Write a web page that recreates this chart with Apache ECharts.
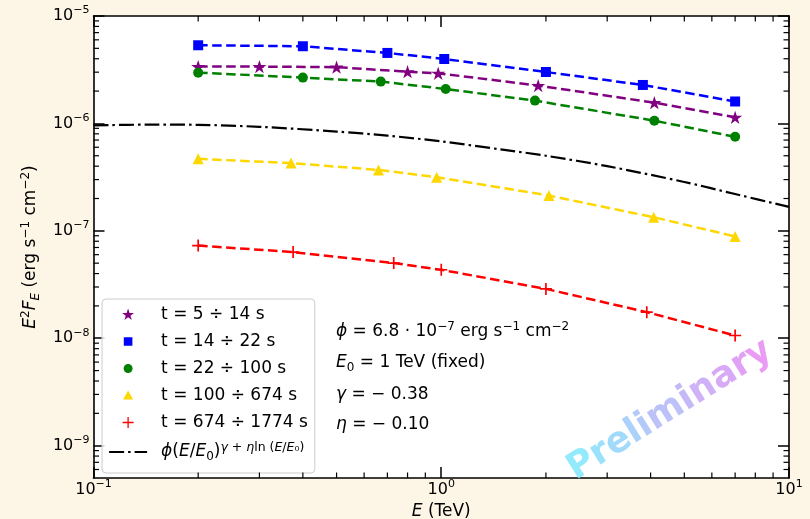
<!DOCTYPE html>
<html>
<head>
<meta charset="utf-8">
<script src="https://cdn.jsdelivr.net/npm/echarts@6.0.0/dist/echarts.min.js"></script>
<style>
html,body{margin:0;padding:0;background:#fdf5e6;}
#chart{width:810px;height:519px;}
</style>
</head>
<body>
<div id="chart"></div>
<script>
// ---------------- data ----------------
const seriesNames = ['t = 5 ÷ 14 s', 't = 14 ÷ 22 s', 't = 22 ÷ 100 s', 't = 100 ÷ 674 s', 't = 674 ÷ 1774 s'];
const fitName = 'fit';

const energy_5_14 = [0.2, 0.3, 0.5, 0.8, 0.98, 1.9, 4.1, 7.0];
const flux_5_14 = [3.38e-6, 3.38e-6, 3.34e-6, 3.03e-6, 2.93e-6, 2.25e-6, 1.56e-6, 1.14e-6];

const energy_14_22 = [0.2, 0.4, 0.7, 1.02, 2.0, 3.8, 7.0];
const flux_14_22 = [5.34e-6, 5.23e-6, 4.53e-6, 3.98e-6, 3.01e-6, 2.28e-6, 1.60e-6];

const energy_22_100 = [0.2, 0.4, 0.67, 1.03, 1.86, 4.1, 7.0];
const flux_22_100 = [2.97e-6, 2.67e-6, 2.45e-6, 2.09e-6, 1.63e-6, 1.06e-6, 7.5e-7];

const energy_100_674 = [0.2, 0.37, 0.66, 0.97, 2.04, 4.08, 7.0];
const flux_100_674 = [4.68e-7, 4.27e-7, 3.69e-7, 3.16e-7, 2.13e-7, 1.34e-7, 8.85e-8];

const energy_674_1774 = [0.2, 0.375, 0.73, 1.0, 2.0, 3.9, 7.0];
const flux_674_1774 = [7.29e-8, 6.34e-8, 5.01e-8, 4.34e-8, 2.88e-8, 1.75e-8, 1.06e-8];

const energy_fit = [0.1, 0.15, 0.2, 0.3, 0.5, 0.7, 1.0, 1.5, 2.0, 3.0, 5.0, 7.0, 10.0];
const flux_fit = [9.6e-7, 9.75e-7, 9.7e-7, 9.3e-7, 8.4e-7, 7.7e-7, 6.8e-7, 5.7e-7, 5.0e-7, 4.0e-7, 2.85e-7, 2.2e-7, 1.67e-7];

const xRange = [0.1, 10];
const yRange = [5e-10, 1e-5];
const xTickValues = [0.1, 1, 10];
const xTickExponents = ['−1', '0', '1'];
const yTickValues = [1e-9, 1e-8, 1e-7, 1e-6, 1e-5];
const yTickExponents = ['−9', '−8', '−7', '−6', '−5'];
const xMinorTicks = [0.2, 0.3, 0.4, 0.5, 0.6, 0.7, 0.8, 0.9, 2, 3, 4, 5, 6, 7, 8, 9];
const yMinorTicks = [6e-10, 7e-10, 8e-10, 9e-10,
  2e-9, 3e-9, 4e-9, 5e-9, 6e-9, 7e-9, 8e-9, 9e-9,
  2e-8, 3e-8, 4e-8, 5e-8, 6e-8, 7e-8, 8e-8, 9e-8,
  2e-7, 3e-7, 4e-7, 5e-7, 6e-7, 7e-7, 8e-7, 9e-7,
  2e-6, 3e-6, 4e-6, 5e-6, 6e-6, 7e-6, 8e-6, 9e-6];

// ---------------- styling helpers ----------------
const F = 'DejaVu Sans';
const colors = ['#800080', '#0000ff', '#008000', '#ffd700', '#ff0000'];

function starPts(cx, cy, R, r) {
  let s = '';
  for (let k = 0; k < 10; k++) {
    const a = (-90 + 36 * k) * Math.PI / 180;
    const rr = k % 2 ? r : R;
    s += (k ? 'L' : 'M') + (cx + rr * Math.cos(a)).toFixed(2) + ',' + (cy + rr * Math.sin(a)).toFixed(2);
  }
  return s + 'Z';
}
const PAD = 'M0,0h0.01v0.01h-0.01z M13.99,13.99h0.01v0.01h-0.01z ';
const plotSymbols = [
  'path://' + starPts(50, 50, 50, 19.1),
  'rect',
  'circle',
  'triangle',
  'path://M4.3,0H5.7V4.3H10V5.7H5.7V10H4.3V5.7H0V4.3H4.3Z'
];
const plotSizes = [14, 10, 10, 11, 12];
const legendIcons = [
  'path://' + PAD + starPts(7, 7.4, 6.3, 2.45),
  'path://' + PAD + 'M2.7,2.7h8.6v8.6h-8.6z',
  'path://' + PAD + 'M2.5,7a4.5,4.5 0 1,0 9,0a4.5,4.5 0 1,0 -9,0z',
  'path://' + PAD + 'M7,2L12,11H2z',
  'path://' + PAD + 'M6.35,1.5H7.65V6.35H12.5V7.65H7.65V12.5H6.35V7.65H1.5V6.35H6.35Z'
];

const tickRich = {
  n: {fontFamily: F, fontSize: 16, lineHeight: 22, color: '#000'},
  sup: {fontFamily: F, fontSize: 11, lineHeight: 10, verticalAlign: 'top', color: '#000'}
};
const textRich = {
  n: {fontFamily: F, fontSize: 17, lineHeight: 22, color: '#000'},
  i: {fontFamily: F, fontSize: 17, fontStyle: 'italic', lineHeight: 22, color: '#000'},
  sup: {fontFamily: F, fontSize: 12, lineHeight: 10, verticalAlign: 'top', color: '#000'},
  supi: {fontFamily: F, fontSize: 12, fontStyle: 'italic', lineHeight: 10, verticalAlign: 'top', color: '#000'},
  sub: {fontFamily: F, fontSize: 12, lineHeight: 10, verticalAlign: 'bottom', color: '#000'},
  subi: {fontFamily: F, fontSize: 12, fontStyle: 'italic', lineHeight: 10, verticalAlign: 'bottom', color: '#000'}
};
// zrender (graphic component) uses "fill" instead of "color"
function toFill(rich) {
  const out = {};
  Object.keys(rich).forEach(k => {
    const s = Object.assign({}, rich[k]);
    s.fill = s.color; delete s.color;
    out[k] = s;
  });
  return out;
}
const graphicRich = toFill(textRich);
const legendRich = {
  n: {fontFamily: F, fontSize: 17, lineHeight: 22, color: '#000', padding: [0, 0, 0, 9]},
  n2: {fontFamily: F, fontSize: 17, lineHeight: 22, color: '#000'},
  pi: {fontFamily: F, fontSize: 17, fontStyle: 'italic', lineHeight: 22, color: '#000', padding: [0, 0, 0, 9]},
  i: {fontFamily: F, fontSize: 17, fontStyle: 'italic', lineHeight: 22, color: '#000'},
  sup: {fontFamily: F, fontSize: 12.5, lineHeight: 8, verticalAlign: 'top', color: '#000'},
  supi: {fontFamily: F, fontSize: 12.5, fontStyle: 'italic', lineHeight: 8, verticalAlign: 'top', color: '#000'},
  sub: {fontFamily: F, fontSize: 12, lineHeight: 10, verticalAlign: 'bottom', color: '#000'}
};

function expFormatter(values, exps) {
  return function (v) {
    let best = 0;
    const lv = Math.log10(v);
    for (let i = 0; i < values.length; i++) {
      if (Math.abs(lv - Math.log10(values[i])) < Math.abs(lv - Math.log10(values[best]))) best = i;
    }
    return '{n|10}{sup|' + exps[best] + '}';
  };
}

function pairs(xs, ys) { return xs.map((x, i) => [x, ys[i]]); }

const energies = [energy_5_14, energy_14_22, energy_22_100, energy_100_674, energy_674_1774];
const fluxes = [flux_5_14, flux_14_22, flux_22_100, flux_100_674, flux_674_1774];

const dataSeries = seriesNames.map((name, k) => ({
  type: 'line', name: name, xAxisIndex: 0, yAxisIndex: 0,
  data: pairs(energies[k], fluxes[k]),
  symbol: plotSymbols[k], symbolSize: plotSizes[k], symbolKeepAspect: true, showAllSymbol: true,
  lineStyle: {color: colors[k], width: 2.5, type: [9.5, 4.5]},
  itemStyle: {color: colors[k]},
  emphasis: {disabled: true}, z: 3
}));

const fitSeries = {
  type: 'line', name: fitName, xAxisIndex: 0, yAxisIndex: 0,
  data: pairs(energy_fit, flux_fit),
  symbol: 'none', smooth: 0.3,
  lineStyle: {color: '#000', width: 2.2, type: [15, 4, 2.5, 4]},
  itemStyle: {color: '#000'},
  emphasis: {disabled: true}, z: 4
};

const tickLine = (x1, y1, x2, y2) => ({type: 'line', shape: {x1, y1, x2, y2}, style: {stroke: '#000', lineWidth: 1.2}});
const MINOR = 5.5;
const minorX = {
  type: 'custom', name: 'minorX', silent: true, xAxisIndex: 0, yAxisIndex: 0,
  data: xMinorTicks.map(v => [v, yRange[0]]), encode: {x: 0, y: 1}, z: 6,
  renderItem: function (params, api) {
    const v = api.value(0);
    const b = api.coord([v, yRange[0]]);
    const t = api.coord([v, yRange[1]]);
    return {type: 'group', children: [tickLine(b[0], b[1], b[0], b[1] - MINOR), tickLine(t[0], t[1], t[0], t[1] + MINOR)]};
  }
};
const minorY = {
  type: 'custom', name: 'minorY', silent: true, xAxisIndex: 0, yAxisIndex: 0,
  data: yMinorTicks.map(v => [xRange[0], v]), encode: {x: 0, y: 1}, z: 6,
  renderItem: function (params, api) {
    const v = api.value(1);
    const l = api.coord([xRange[0], v]);
    const r = api.coord([xRange[1], v]);
    return {type: 'group', children: [tickLine(l[0], l[1], l[0] + MINOR, l[1]), tickLine(r[0], r[1], r[0] - MINOR, r[1])]};
  }
};

const axisLine = {show: true, onZero: false, lineStyle: {color: '#000', width: 1.6}};
const majorTick = vals => ({show: true, inside: true, length: 11, lineStyle: {color: '#000', width: 1.5}, customValues: vals});

const legendLabels = {};
seriesNames.forEach(n => legendLabels[n] = '{n|' + n + '}');
legendLabels[fitName] = '{pi|ϕ}{n2|(}{i|E}{n2|/}{i|E}{sub|0}{n2|)}{supi|γ}{sup| + }{supi|η}{sup|ln (}{supi|E}{sup|/}{supi|E}{sup|₀)}';

const wmColors = ['#7fe6fc', '#88dcfb', '#92d3fa', '#9ccaf9', '#a6c1f8', '#b0b7f7', '#baadf6', '#c5a3f5', '#d19af4', '#dc91f3', '#e689f2'];
const wmText = 'Preliminary';
const wmRich = {};
let wmStr = '';
for (let i = 0; i < wmText.length; i++) {
  wmRich['c' + i] = {fontFamily: F, fontWeight: 'bold', fontSize: 36, fill: wmColors[i]};
  wmStr += '{c' + i + '|' + wmText[i] + '}';
}

const option = {
  animation: false,
  backgroundColor: '#fdf5e6',
  grid: {left: 93.5, right: 21, top: 16, bottom: 41, show: true, backgroundColor: '#ffffff', borderWidth: 0, outerBoundsMode: 'none'},
  xAxis: [
    {type: 'log', logBase: 10, min: xRange[0], max: xRange[1], position: 'bottom',
     axisLine: axisLine, axisTick: majorTick(xTickValues),
     axisLabel: {show: true, customValues: xTickValues, formatter: expFormatter(xTickValues, xTickExponents), margin: 1, rich: tickRich},
     splitLine: {show: false}, minorTick: {show: false},
     name: '{i|E}{n| (TeV)}', nameLocation: 'middle', nameGap: 19, nameTextStyle: {rich: textRich}},
    {type: 'log', logBase: 10, min: xRange[0], max: xRange[1], position: 'top',
     axisLine: axisLine, axisTick: majorTick(xTickValues), axisLabel: {show: false}, splitLine: {show: false}}
  ],
  yAxis: [
    {type: 'log', logBase: 10, min: yRange[0], max: yRange[1], position: 'left',
     axisLine: axisLine, axisTick: majorTick(yTickValues),
     axisLabel: {show: true, customValues: yTickValues, formatter: expFormatter(yTickValues, yTickExponents), margin: 4, rich: tickRich},
     splitLine: {show: false}, minorTick: {show: false},
     name: '{i|E}{sup|2}{i|F}{subi|E}{n| (erg s}{sup|−1}{n| cm}{sup|−2}{n|)}', nameLocation: 'middle', nameGap: 46, nameTextStyle: {rich: textRich}},
    {type: 'log', logBase: 10, min: yRange[0], max: yRange[1], position: 'right',
     axisLine: axisLine, axisTick: majorTick(yTickValues), axisLabel: {show: false}, splitLine: {show: false}}
  ],
  legend: {
    orient: 'vertical', left: 102, top: 299,
    padding: [7, 7, 10, 6],
    itemWidth: 38, itemHeight: 14, itemGap: 10,
    backgroundColor: 'rgba(255,255,255,0.8)', borderColor: '#cccccc', borderWidth: 1, borderRadius: 4,
    selectedMode: false,
    textStyle: {fontFamily: F, fontSize: 17, color: '#000', rich: legendRich},
    formatter: name => legendLabels[name] || name,
    data: seriesNames.map((n, k) => ({name: n, icon: legendIcons[k]})).concat([
      {name: fitName, itemStyle: {opacity: 0}, lineStyle: {width: 2.2}}
    ])
  },
  graphic: [
    {type: 'text', x: 336, y: 332, silent: true, style: {text: '{i|ϕ}{n| = 6.8 · 10}{sup|−7}{n| erg s}{sup|−1}{n| cm}{sup|−2}', rich: graphicRich, align: 'left', verticalAlign: 'middle'}},
    {type: 'text', x: 336, y: 363, silent: true, style: {text: '{i|E}{sub|0}{n| = 1 TeV (fixed)}', rich: graphicRich, align: 'left', verticalAlign: 'middle'}},
    {type: 'text', x: 336, y: 395, silent: true, style: {text: '{i|γ}{n| = − 0.38}', rich: graphicRich, align: 'left', verticalAlign: 'middle'}},
    {type: 'text', x: 336, y: 425, silent: true, style: {text: '{i|η}{n| = − 0.10}', rich: graphicRich, align: 'left', verticalAlign: 'middle'}},
    {type: 'text', x: 670, y: 410, rotation: 0.56, silent: true, z: 100, style: {text: wmStr, rich: wmRich, align: 'center', verticalAlign: 'middle', opacity: 0.85}}
  ],
  series: dataSeries.concat([fitSeries, minorX, minorY])
};

const chart = echarts.init(document.getElementById('chart'), null, {renderer: 'canvas'});
chart.setOption(option);
</script>
</body>
</html>
